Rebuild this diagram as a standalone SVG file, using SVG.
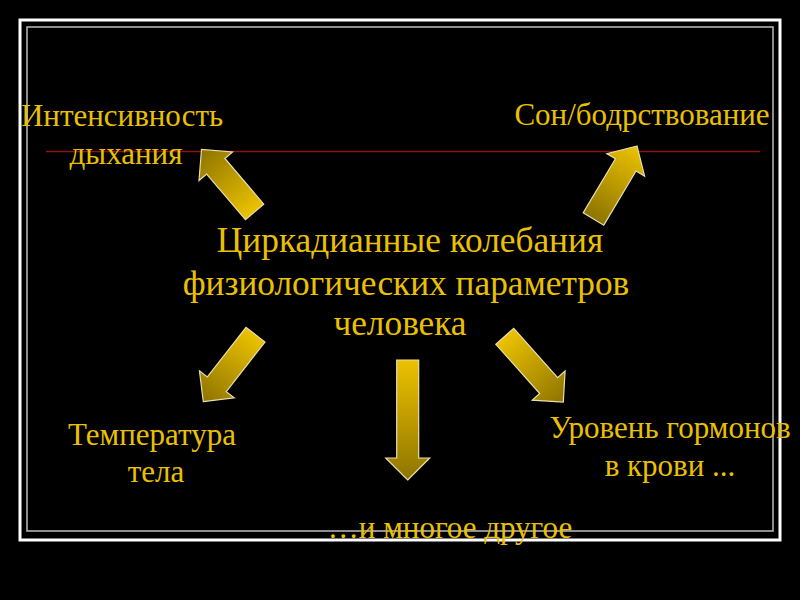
<svg xmlns="http://www.w3.org/2000/svg" width="800" height="600" viewBox="0 0 800 600">
<defs>
<linearGradient id="gDark" x1="0" y1="0" x2="1" y2="0">
<stop offset="0" stop-color="#ECC200"/>
<stop offset="1" stop-color="#8E7400"/>
</linearGradient>
<linearGradient id="gBright" x1="0" y1="0" x2="1" y2="0">
<stop offset="0" stop-color="#8E7400"/>
<stop offset="1" stop-color="#ECC200"/>
</linearGradient>
<style>
.t{font-family:"Liberation Serif","Times New Roman",serif;fill:#EBC000;text-anchor:middle}
.s{font-size:31px}
.c{font-size:35.3px}
.arr{stroke:#E6DDB0;stroke-width:1.2;stroke-linejoin:miter}
</style>
</defs>
<rect x="0" y="0" width="800" height="600" fill="#000"/>
<g id="frame">
<rect x="20" y="20" width="760" height="520" fill="none" stroke="#FFFFFF" stroke-width="3"/>
<rect x="27" y="27" width="746" height="504" fill="none" stroke="#BDBDBD" stroke-width="1.5"/>
</g>
<line x1="46" y1="151.5" x2="760" y2="151.5" stroke="#8A1414" stroke-width="1.6"/>
<g id="connectors">
<polygon class="arr" fill="url(#gDark)" transform="translate(201.5,149.5) rotate(229.6)" points="0,0 -22,-22 -22,-12 -82,-12 -82,12 -22,12 -22,22"/>
<polygon class="arr" fill="url(#gBright)" transform="translate(637,146) rotate(-59.2)" points="0,0 -22,-22 -22,-12 -85,-12 -85,12 -22,12 -22,22"/>
<polygon class="arr" fill="url(#gDark)" transform="translate(203.3,401.7) rotate(127.9)" points="0,0 -22,-22 -22,-12 -85,-12 -85,12 -22,12 -22,22"/>
<polygon class="arr" fill="url(#gDark)" transform="translate(407.7,480) rotate(90)" points="0,0 -22,-22 -22,-11 -120,-11 -120,11 -22,11 -22,22"/>
<polygon class="arr" fill="url(#gDark)" transform="translate(563.3,402) rotate(48.3)" points="0,0 -22,-22 -22,-12 -88,-12 -88,12 -22,12 -22,22"/>
</g>
<g id="center">
<text class="t c" x="410" y="252">Циркадианные колебания</text>
<text class="t c" x="406" y="295">физиологических параметров</text>
<text class="t c" x="400" y="335">человека</text>
</g>
<g id="breathing">
<text class="t s" x="122" y="126">Интенсивность</text>
<text class="t s" x="126" y="164">дыхания</text>
</g>
<g id="sleep">
<text class="t s" x="642" y="125">Сон/бодрствование</text>
</g>
<g id="temperature">
<text class="t s" x="152" y="445">Температура</text>
<text class="t s" x="156" y="482">тела</text>
</g>
<g id="hormones">
<text class="t s" x="670" y="438">Уровень гормонов</text>
<text class="t s" x="670" y="476">в крови ...</text>
</g>
<g id="other">
<text class="t s" x="450" y="538">…и многое другое</text>
</g>
</svg>
